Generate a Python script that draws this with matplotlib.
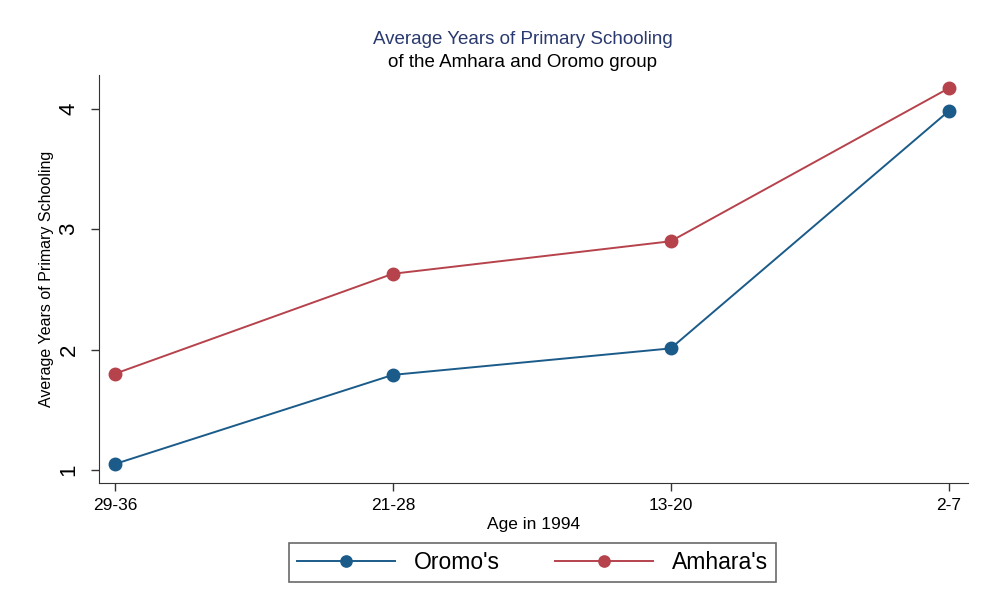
import matplotlib
matplotlib.use("Agg")
import matplotlib.pyplot as plt

# data
age_groups = ["29-36", "21-28", "13-20", "2-7"]
oromo = [1.05, 1.79, 2.01, 3.98]
amhara = [1.80, 2.63, 2.90, 4.17]
yticks = [1, 2, 3, 4]

plt.rcParams["font.family"] = ["Liberation Sans", "DejaVu Sans"]

blue = "#1b5b8a"
red = "#b6424c"

fig = plt.figure(figsize=(9.81, 6.06), dpi=100)
ax = fig.add_axes([0.1009, 0.203, 0.8858, 0.673])

x = list(range(len(age_groups)))
ax.plot(x, oromo, color=blue, lw=1.4, marker="o", ms=9, mec=blue, mfc=blue, label="Oromo's")
ax.plot(x, amhara, color=red, lw=1.4, marker="o", ms=9, mec=red, mfc=red, label="Amhara's")

ax.set_xlim(-0.058, 3.07)
ax.set_ylim(0.892, 4.28)
ax.set_xticks(x)
ax.set_xticklabels(age_groups, fontsize=12.5)
ax.set_yticks(yticks)
ax.set_yticklabels([str(v) for v in yticks], rotation=90, va="center", fontsize=16)

ax.spines["top"].set_visible(False)
ax.spines["right"].set_visible(False)
ax.spines["left"].set_color("#333333")
ax.spines["bottom"].set_color("#333333")
ax.tick_params(direction="out", length=6, color="#333333", width=1)
ax.tick_params(axis="x", pad=5)
ax.tick_params(axis="y", pad=8)

ax.set_xlabel("Age in 1994", fontsize=12.5, labelpad=3)
ax.set_ylabel("Average Years of Primary Schooling", fontsize=11.5, labelpad=3)

fig.text(0.5325, 0.935, "Average Years of Primary Schooling", ha="center", va="center",
         fontsize=13.5, color="#2a3a6e")
fig.text(0.5325, 0.897, "of the Amhara and Oromo group", ha="center", va="center",
         fontsize=13.5, color="black")

leg = fig.legend(loc="center", bbox_to_anchor=(0.5425, 0.072), ncol=2, fontsize=16.5,
                 frameon=True, fancybox=False, edgecolor="#444444", handlelength=4.3,
                 columnspacing=2.4, borderpad=0.35, markerscale=0.9)
leg.get_frame().set_linewidth(1.2)

fig.savefig("out.png", dpi=100)
